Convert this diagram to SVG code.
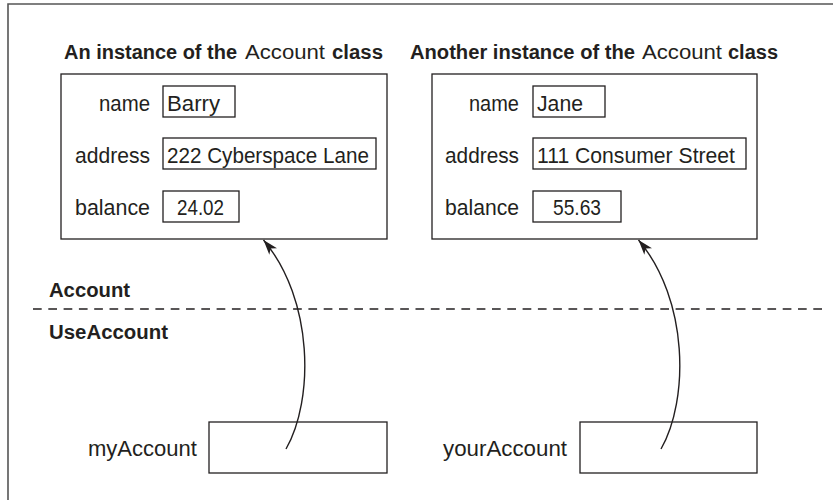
<svg xmlns="http://www.w3.org/2000/svg" width="833" height="500" viewBox="0 0 833 500">
<style>
  .frame{fill:none;stroke:#555;stroke-width:1.6}
  .box{fill:#fff;stroke:#231f20;stroke-width:1.3}
  .t{font-family:"Liberation Sans",Arial,sans-serif;font-size:22.5px;fill:#231f20}
  .b{font-family:"Liberation Sans",Arial,sans-serif;font-size:20px;font-weight:bold;fill:#231f20}
  .r{font-family:"Liberation Sans",Arial,sans-serif;font-size:20px;fill:#231f20}
  .h{font-family:"Liberation Sans",Arial,sans-serif;font-size:20px;font-weight:bold;fill:#231f20}
  .end{text-anchor:end}
  .conn{fill:none;stroke:#231f20;stroke-width:1.4}
  .dash{fill:none;stroke:#231f20;stroke-width:1.3;stroke-dasharray:8.7 6.6}
</style>
<defs>
  <marker id="arrow" viewBox="-15 -6 16 12" refX="0" refY="0" markerWidth="16" markerHeight="12" markerUnits="userSpaceOnUse" orient="auto">
    <path d="M0,0 L-15,-5 L-11,0 L-15,5 Z" fill="#231f20"/>
  </marker>
</defs>
<rect width="833" height="500" fill="#fff"/>
<path class="frame" d="M833,4 H8 V500"/>

<g id="title-left">
  <text class="b" x="64" y="59" textLength="173" lengthAdjust="spacingAndGlyphs">An instance of the</text>
  <text class="r" x="245" y="59" textLength="80" lengthAdjust="spacingAndGlyphs">Account</text>
  <text class="b" x="332" y="59" textLength="51" lengthAdjust="spacingAndGlyphs">class</text>
</g>
<g id="title-right">
  <text class="b" x="410" y="59" textLength="225" lengthAdjust="spacingAndGlyphs">Another instance of the</text>
  <text class="r" x="642" y="59" textLength="80" lengthAdjust="spacingAndGlyphs">Account</text>
  <text class="b" x="728" y="59" textLength="50" lengthAdjust="spacingAndGlyphs">class</text>
</g>

<g id="instance-barry">
  <rect class="box" x="61" y="74" width="326" height="165"/>
  <text class="t end" x="150" y="111" textLength="51" lengthAdjust="spacingAndGlyphs">name</text>
  <rect class="box" x="163" y="86" width="72" height="31"/>
  <text class="t" x="167" y="111" textLength="53" lengthAdjust="spacingAndGlyphs">Barry</text>
  <text class="t end" x="150" y="163" textLength="75" lengthAdjust="spacingAndGlyphs">address</text>
  <rect class="box" x="163" y="138" width="213" height="31"/>
  <text class="t" x="167" y="163" textLength="202" lengthAdjust="spacingAndGlyphs">222 Cyberspace Lane</text>
  <text class="t end" x="150" y="215" textLength="75" lengthAdjust="spacingAndGlyphs">balance</text>
  <rect class="box" x="163" y="191" width="76" height="31"/>
  <text class="t" x="177" y="215" textLength="47" lengthAdjust="spacingAndGlyphs">24.02</text>
</g>

<g id="instance-jane">
  <rect class="box" x="432" y="74" width="325" height="165"/>
  <text class="t end" x="519" y="111" textLength="50" lengthAdjust="spacingAndGlyphs">name</text>
  <rect class="box" x="533" y="86" width="72" height="31"/>
  <text class="t" x="537" y="111" textLength="46" lengthAdjust="spacingAndGlyphs">Jane</text>
  <text class="t end" x="519" y="163" textLength="74" lengthAdjust="spacingAndGlyphs">address</text>
  <rect class="box" x="533" y="138" width="213" height="31"/>
  <text class="t" x="537" y="163" textLength="198" lengthAdjust="spacingAndGlyphs">111 Consumer Street</text>
  <text class="t end" x="519" y="215" textLength="74" lengthAdjust="spacingAndGlyphs">balance</text>
  <rect class="box" x="533" y="191" width="88" height="31"/>
  <text class="t" x="553" y="215" textLength="48" lengthAdjust="spacingAndGlyphs">55.63</text>
</g>

<g id="class-divider">
  <text class="h" x="49" y="297" textLength="81" lengthAdjust="spacingAndGlyphs">Account</text>
  <line class="dash" x1="33" y1="309" x2="822" y2="309"/>
  <text class="h" x="49" y="339" textLength="119" lengthAdjust="spacingAndGlyphs">UseAccount</text>
</g>

<g id="var-myAccount">
  <text class="t" x="88" y="456" textLength="109" lengthAdjust="spacingAndGlyphs">myAccount</text>
  <rect class="box" x="209" y="422" width="178" height="51"/>
</g>
<g id="var-yourAccount">
  <text class="t" x="443" y="456" textLength="124" lengthAdjust="spacingAndGlyphs">yourAccount</text>
  <rect class="box" x="580" y="422" width="177" height="51"/>
</g>

<g id="connectors">
  <path class="conn" d="M286,449 C314,400 314,300 263.5,240" marker-end="url(#arrow)"/>
  <path class="conn" d="M661,449 C689,400 689,300 638.5,240" marker-end="url(#arrow)"/>
</g>
</svg>
